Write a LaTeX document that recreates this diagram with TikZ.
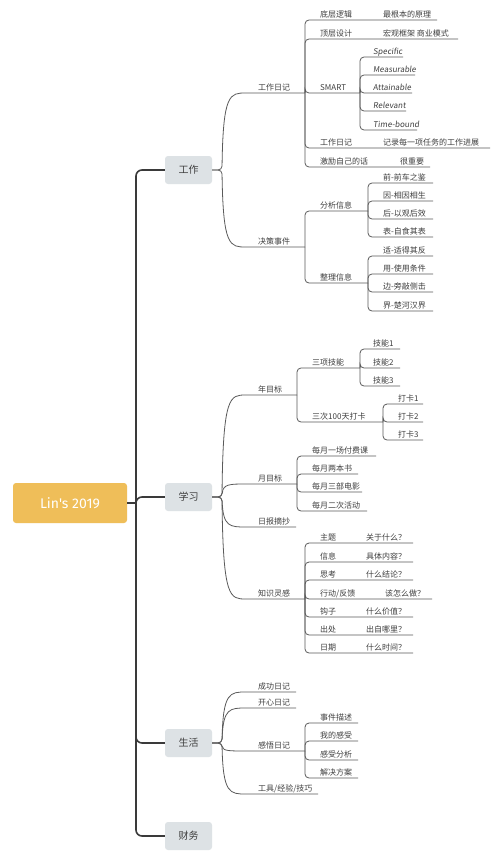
\documentclass[tikz,border=0pt]{standalone}
\usepackage{fontspec}
\setmainfont{Noto Sans CJK SC}
\newfontfamily\slfont[FakeSlant=0.12]{Noto Sans CJK SC}
\newfontfamily\rootfont{Fira Sans}
\definecolor{ln}{HTML}{5A5A5A}
\definecolor{tk}{HTML}{3A3A3A}
\definecolor{tx}{HTML}{3F3F3F}
\definecolor{boxg}{HTML}{DDE2E5}
\definecolor{rootc}{HTML}{EFBE59}
\newcommand\lf[6]{\node[lbl] (#1) at (#4,#3) {#6};\coordinate (#1e) at (#5,#3);\draw[br] (#2) |- (#1e);}
\newcommand\cv[4]{\draw[br] (#1.east) -- (222,#2) .. controls (223,#3) and (230,#3) .. (250,#3) -- (#4);}
\begin{document}
\begin{tikzpicture}[x=1pt,y=-1pt,
 lbl/.style={anchor=base west, inner sep=0pt, yshift=2.5pt, font=\fontsize{8}{9}\selectfont, text=tx},
 br/.style={draw=ln, line width=0.8pt, rounded corners=4pt},
 trunk/.style={draw=tk, line width=1.6pt, rounded corners=6pt},
 topic/.style={fill=boxg, rounded corners=3pt, minimum width=47pt, minimum height=28pt, font=\fontsize{10}{12}\selectfont, text=tx, inner sep=0pt}]
\useasboundingbox (0,0) rectangle (500,864);
\fill[white] (0,0) rectangle (500,864);
% main nodes
\node[fill=rootc, rounded corners=3pt, minimum width=114pt, minimum height=40pt, inner sep=0pt, text=white, font=\fontsize{14}{16}\selectfont\rootfont] (root) at (70,503) {Lin\char"0027s 2019};
\node[topic] (work) at (188.5,170) {工作};
\node[topic] (study) at (188.5,497) {学习};
\node[topic] (life) at (188.5,743) {生活};
\node[topic] (fin) at (188.5,836) {财务};
\coordinate (hub) at (136,503);
\draw[trunk] (root.east) -- (hub);
\draw[trunk] (hub) |- (work.west);
\draw[trunk] (hub) |- (study.west);
\draw[trunk] (hub) |- (life.west);
\draw[trunk] (hub) |- (fin.west);
% ===== 工作 =====
\coordinate (bG) at (305,93);
\coordinate (bJ) at (305,247);
\cv{work}{170}{93}{bG}
\node[lbl] (gzrj) at (258,93) {工作日记};
\cv{work}{170}{247}{bJ}
\node[lbl] (jcsj) at (258,247) {决策事件};
\lf{g1}{bG}{20}{320}{437}{底层逻辑}
\node[lbl] (g1b) at (383,20) {最根本的原理};
\lf{g2}{bG}{39}{320}{458}{顶层设计}
\node[lbl] (g2b) at (383,39) {宏观框架 商业模式};
\coordinate (bS) at (360,93);
\lf{g3}{bG}{93}{320}{360}{SMART}
\lf{g4}{bG}{148}{320}{490}{工作日记}
\node[lbl] (g4b) at (383,148) {记录每一项任务的工作进展};
\lf{g5}{bG}{167}{320}{430}{激励自己的话}
\node[lbl] (g5b) at (400,167) {很重要};
\lf{s1}{bS}{57}{373}{403}{\slfont Specific}
\lf{s2}{bS}{75}{373}{415}{\slfont Measurable}
\lf{s3}{bS}{93}{373}{412}{\slfont Attainable}
\lf{s4}{bS}{111}{373}{406}{\slfont Relevant}
\lf{s5}{bS}{130}{373}{417}{\slfont Time-bound}
\coordinate (bA) at (368,211);
\coordinate (bZ) at (368,283);
\lf{j1}{bJ}{211}{320}{368}{分析信息}
\lf{j2}{bJ}{283}{320}{368}{整理信息}
\lf{a1}{bA}{183}{383}{433}{前-前车之鉴}
\lf{a2}{bA}{201}{383}{433}{因-相因相生}
\lf{a3}{bA}{219}{383}{433}{后-以观后效}
\lf{a4}{bA}{237}{383}{433}{表-自食其表}
\lf{z1}{bZ}{256}{383}{433}{适-适得其反}
\lf{z2}{bZ}{274}{383}{433}{用-使用条件}
\lf{z3}{bZ}{292}{383}{433}{边-旁敲侧击}
\lf{z4}{bZ}{311}{383}{433}{界-楚河汉界}
% ===== 学习 =====
\coordinate (bN) at (297,395);
\coordinate (bY) at (297,484);
\coordinate (bR) at (296,527);
\coordinate (bK) at (305,599);
\cv{study}{497}{395}{bN}
\node[lbl] (nmb) at (258,395) {年目标};
\cv{study}{497}{484}{bY}
\node[lbl] (ymb) at (258,484) {月目标};
\cv{study}{497}{527}{bR}
\node[lbl] (rbzc) at (258,527) {日报摘抄};
\cv{study}{497}{599}{bK}
\node[lbl] (zslg) at (258,599) {知识灵感};
\coordinate (bT) at (360,368);
\coordinate (bD) at (383,422);
\lf{n1}{bN}{368}{312}{360}{三项技能}
\lf{n2}{bN}{422}{312}{383}{三次100天打卡}
\lf{t1}{bT}{349}{373}{400}{技能1}
\lf{t2}{bT}{368}{373}{400}{技能2}
\lf{t3}{bT}{386}{373}{400}{技能3}
\lf{d1}{bD}{404}{398}{423}{打卡1}
\lf{d2}{bD}{422}{398}{423}{打卡2}
\lf{d3}{bD}{440}{398}{423}{打卡3}
\lf{y1}{bY}{456}{312}{376}{每月一场付费课}
\lf{y2}{bY}{474}{312}{358}{每月两本书}
\lf{y3}{bY}{492}{312}{362}{每月三部电影}
\lf{y4}{bY}{511}{312}{367}{每月二次活动}
\lf{k1}{bK}{543}{320}{413}{主题}
\node[lbl] (k1b) at (366,543) {关于什么？};
\lf{k2}{bK}{562}{320}{413}{信息}
\node[lbl] (k2b) at (366,562) {具体内容？};
\lf{k3}{bK}{580}{320}{413}{思考}
\node[lbl] (k3b) at (366,580) {什么结论？};
\lf{k4}{bK}{599}{320}{432}{行动/反馈}
\node[lbl] (k4b) at (385,599) {该怎么做？};
\lf{k5}{bK}{617}{320}{413}{钩子}
\node[lbl] (k5b) at (366,617) {什么价值？};
\lf{k6}{bK}{635}{320}{413}{出处}
\node[lbl] (k6b) at (366,635) {出自哪里？};
\lf{k7}{bK}{653}{320}{413}{日期}
\node[lbl] (k7b) at (366,653) {什么时间？};
% ===== 生活 =====
\coordinate (bC) at (296,692);
\coordinate (bX) at (296,708);
\coordinate (bW) at (305,751);
\coordinate (bQ) at (318,794);
\cv{life}{743}{692}{bC}
\node[lbl] (cgrj) at (258,692) {成功日记};
\cv{life}{743}{708}{bX}
\node[lbl] (kxrj) at (258,708) {开心日记};
\cv{life}{743}{751}{bW}
\node[lbl] (gwrj) at (258,751) {感悟日记};
\cv{life}{743}{794}{bQ}
\node[lbl] (gjjy) at (258,794) {工具/经验/技巧};
\lf{w1}{bW}{723}{320}{358}{事件描述}
\lf{w2}{bW}{741}{320}{358}{我的感受}
\lf{w3}{bW}{760}{320}{358}{感受分析}
\lf{w4}{bW}{778}{320}{358}{解决方案}
\end{tikzpicture}
\end{document}
